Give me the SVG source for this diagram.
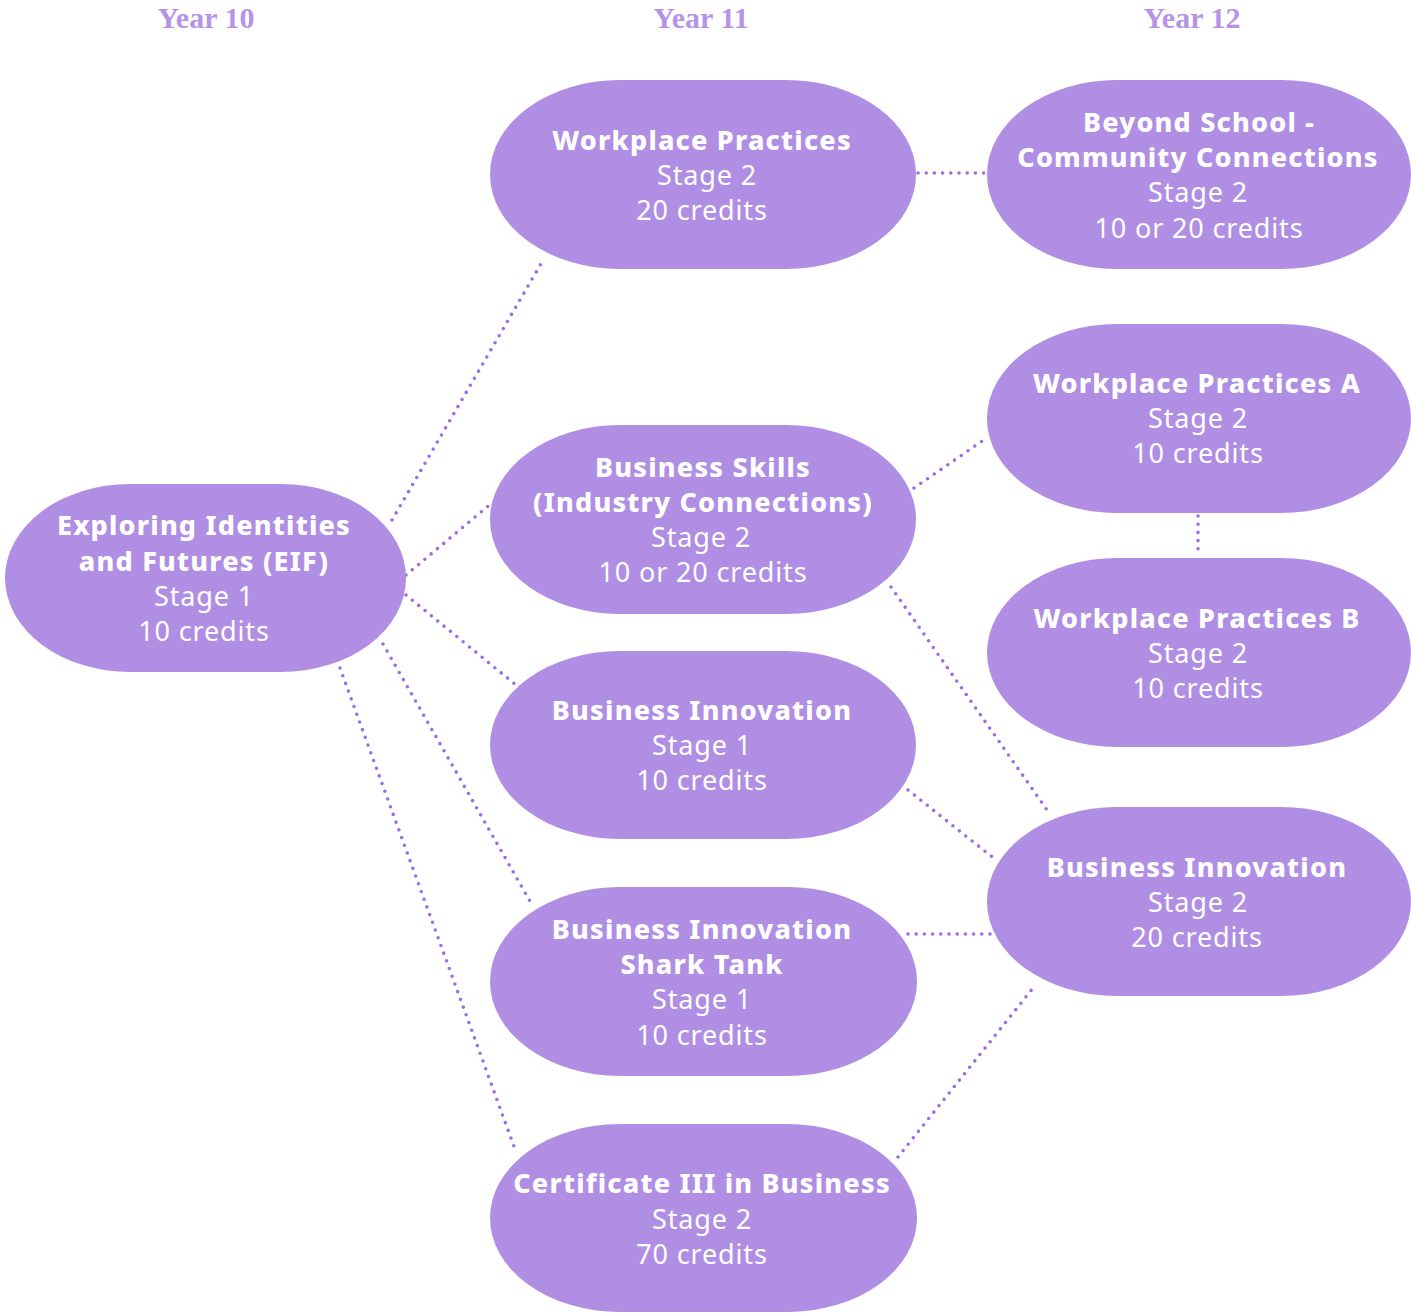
<svg xmlns="http://www.w3.org/2000/svg" width="1411" height="1316" viewBox="0 0 1411 1316">
  <style>
    .hdr { font-family: "Liberation Serif", serif; font-weight: bold; font-size: 30px; fill: #b793e8; text-anchor: middle; }
    .node rect { fill: #b08ee4; }
    .node text { font-family: "Noto Sans", "Open Sans", sans-serif; font-size: 27px; letter-spacing: 0.85px; fill: #ffffff; text-anchor: middle; }
    .node .t { font-weight: 800; letter-spacing: 1.2px; }
    .links line { stroke: #9d6ee0; stroke-width: 3.6; stroke-dasharray: 0 8.2; stroke-linecap: round; fill: none; }
  </style>
  <rect width="1411" height="1316" fill="#ffffff"/>

  <!-- column headings -->
  <text class="hdr" x="206" y="28">Year 10</text>
  <text class="hdr" x="701" y="28">Year 11</text>
  <text class="hdr" x="1192" y="28">Year 12</text>

  <!-- dotted connectors -->
  <g class="links">
    <line x1="392" y1="520" x2="542" y2="262"/>
    <line x1="406" y1="575" x2="493" y2="502"/>
    <line x1="406" y1="595" x2="516" y2="685"/>
    <line x1="383" y1="644" x2="531" y2="903"/>
    <line x1="340" y1="668" x2="516" y2="1152"/>
    <line x1="918" y1="173" x2="988" y2="173"/>
    <line x1="914" y1="488" x2="988" y2="437"/>
    <line x1="1198" y1="516" x2="1198" y2="556"/>
    <line x1="891" y1="587" x2="1047" y2="810"/>
    <line x1="908" y1="790" x2="996" y2="860"/>
    <line x1="908" y1="934" x2="992" y2="934"/>
    <line x1="898" y1="1157" x2="1033" y2="988"/>
  </g>

  <!-- Year 10 -->
  <g id="eif" class="node">
    <rect x="5" y="484" width="401" height="188" rx="125" ry="94"/>
    <text class="t" x="204" y="535">Exploring Identities</text>
    <text class="t" x="204" y="571">and Futures (EIF)</text>
    <text x="204" y="606">Stage 1</text>
    <text x="204" y="641">10 credits</text>
  </g>

  <!-- Year 11 -->
  <g id="workplace-practices" class="node">
    <rect x="490" y="80" width="426" height="189" rx="130" ry="94.5"/>
    <text class="t" x="702" y="150">Workplace Practices</text>
    <text x="707" y="185">Stage 2</text>
    <text x="702" y="220">20 credits</text>
  </g>
  <g id="business-skills" class="node">
    <rect x="490" y="425" width="426" height="189" rx="130" ry="94.5"/>
    <text class="t" x="703" y="477">Business Skills</text>
    <text class="t" x="703" y="512">(Industry Connections)</text>
    <text x="701" y="547">Stage 2</text>
    <text x="703" y="582">10 or 20 credits</text>
  </g>
  <g id="business-innovation-s1" class="node">
    <rect x="490" y="651" width="426" height="188" rx="130" ry="94"/>
    <text class="t" x="702" y="720">Business Innovation</text>
    <text x="702" y="755">Stage 1</text>
    <text x="702" y="790">10 credits</text>
  </g>
  <g id="shark-tank" class="node">
    <rect x="490" y="887" width="427" height="189" rx="130" ry="94.5"/>
    <text class="t" x="702" y="939">Business Innovation</text>
    <text class="t" x="702" y="974">Shark Tank</text>
    <text x="702" y="1009">Stage 1</text>
    <text x="702" y="1045">10 credits</text>
  </g>
  <g id="cert-iii" class="node">
    <rect x="490" y="1124" width="427" height="188" rx="130" ry="94"/>
    <text class="t" x="702" y="1193">Certificate III in Business</text>
    <text x="702" y="1229">Stage 2</text>
    <text x="702" y="1264">70 credits</text>
  </g>

  <!-- Year 12 -->
  <g id="beyond-school" class="node">
    <rect x="987" y="80" width="424" height="189" rx="130" ry="94.5"/>
    <text class="t" x="1199" y="132">Beyond School -</text>
    <text class="t" x="1198" y="167">Community Connections</text>
    <text x="1198" y="202">Stage 2</text>
    <text x="1199" y="238">10 or 20 credits</text>
  </g>
  <g id="workplace-practices-a" class="node">
    <rect x="987" y="324" width="424" height="189" rx="130" ry="94.5"/>
    <text class="t" x="1197" y="393">Workplace Practices A</text>
    <text x="1198" y="428">Stage 2</text>
    <text x="1198" y="463">10 credits</text>
  </g>
  <g id="workplace-practices-b" class="node">
    <rect x="987" y="558" width="424" height="189" rx="130" ry="94.5"/>
    <text class="t" x="1197" y="628">Workplace Practices B</text>
    <text x="1198" y="663">Stage 2</text>
    <text x="1198" y="698">10 credits</text>
  </g>
  <g id="business-innovation-s2" class="node">
    <rect x="987" y="807" width="424" height="189" rx="130" ry="94.5"/>
    <text class="t" x="1197" y="877">Business Innovation</text>
    <text x="1198" y="912">Stage 2</text>
    <text x="1197" y="947">20 credits</text>
  </g>
</svg>
